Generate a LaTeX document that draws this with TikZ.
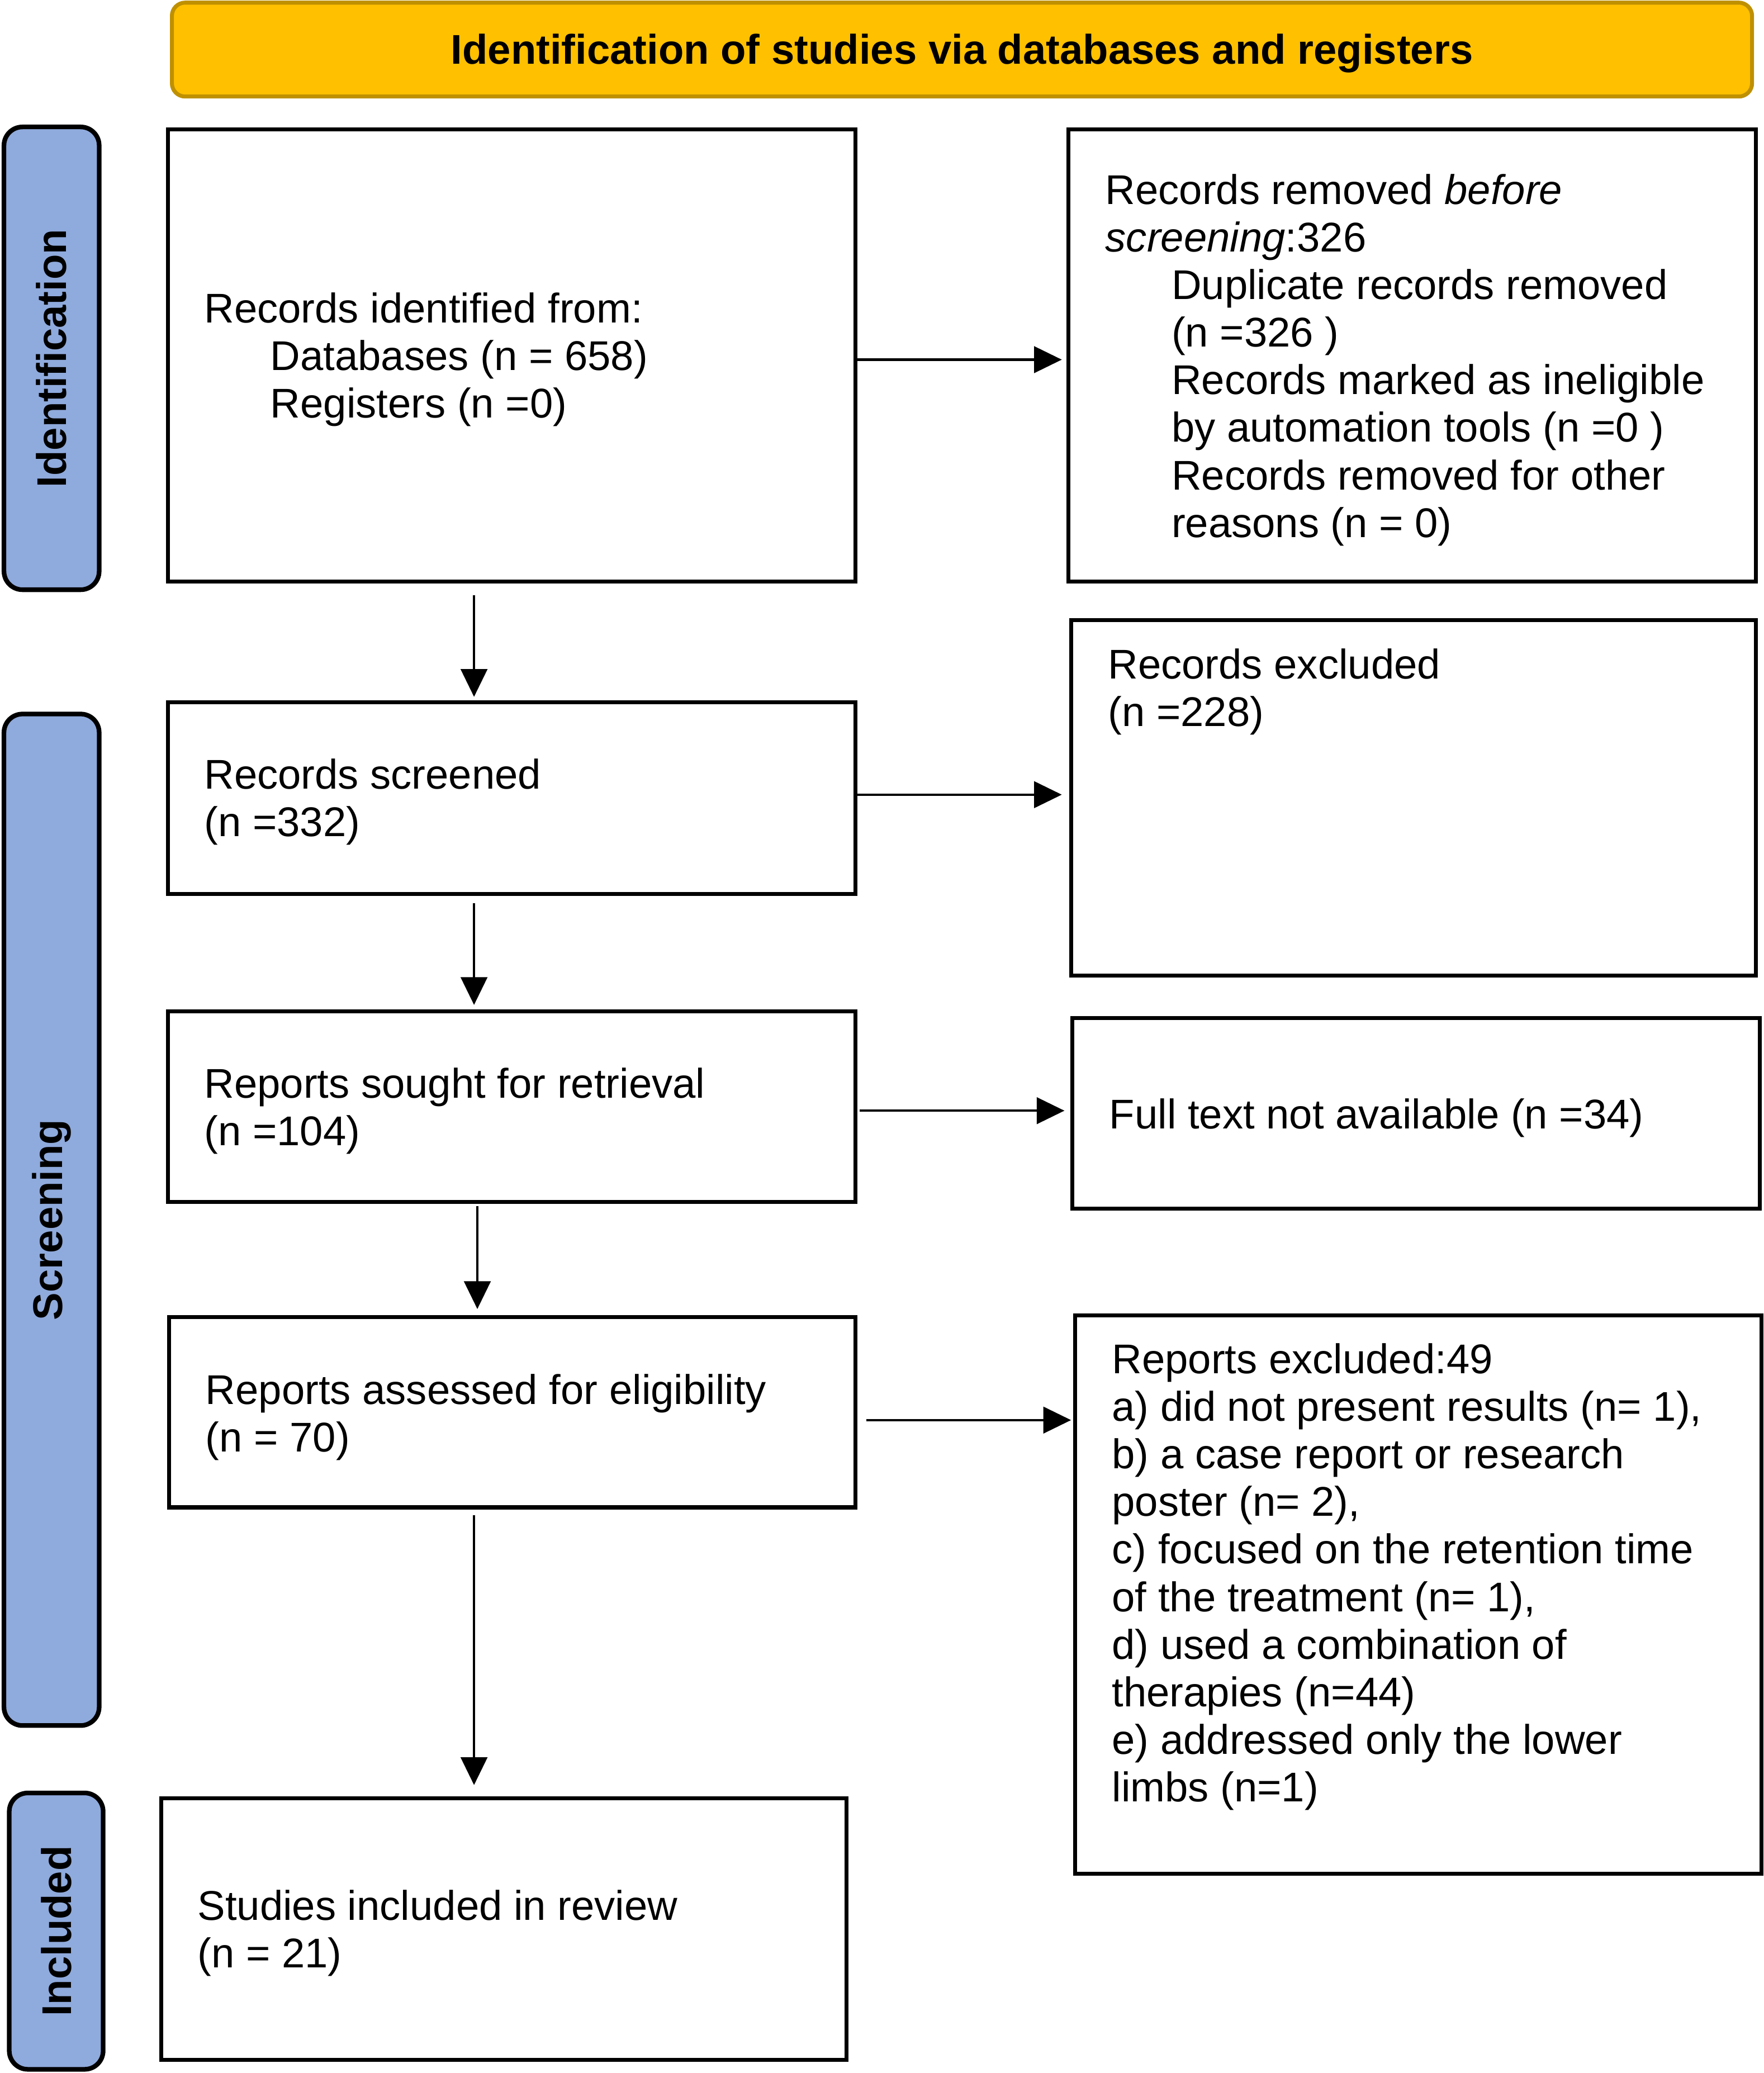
\documentclass[tikz,border=0pt]{standalone}
\usepackage{fontspec}
\setmainfont{Liberation Sans}
\usetikzlibrary{fit,arrows.meta}
\definecolor{gold}{HTML}{FFC000}
\definecolor{goldline}{HTML}{BF9000}
\definecolor{sideblue}{HTML}{8FAADC}
\newcommand\firstln{\rule{0pt}{12pt}}
\newcommand\ind{\hspace*{25pt}}
\begin{document}
\begin{tikzpicture}[x=0.5pt,y=-0.5pt,
  box/.style={draw=black, line width=1.5pt, inner sep=0pt, outer sep=0pt, rectangle},
  sidebar/.style={draw=black, fill=sideblue, line width=1.75pt, rounded corners=7pt, inner sep=0pt, outer sep=0pt},
  titlebar/.style={draw=goldline, fill=gold, line width=1.5pt, rounded corners=5pt, inner sep=0pt, outer sep=0pt},
  txt/.style={inner sep=0pt, outer sep=0pt, anchor=north west, align=left, font=\fontsize{15.7}{18}\selectfont},
  boldlbl/.style={inner sep=0pt, font=\fontsize{15.7}{18}\selectfont\bfseries},
  arr/.style={line width=0.95pt, -{Triangle[length=10.5pt,width=10pt]}}]
\fill[white] (0,0) rectangle (1334,1567.8);
\useasboundingbox (0,0) rectangle (1334,1567.8);

% title bar
\node[titlebar, fit={(130,2) (1325,73)}] (title) {};
\node[boldlbl, yshift=-1.5pt] (titletext) at (title.center) {Identification of studies via databases and registers};

% side bars
\node[sidebar, fit={(3,96) (75,446)}] (s1) {};
\node[sidebar, fit={(3,540) (75,1305)}] (s2) {};
\node[sidebar, fit={(7,1356) (78,1565)}] (s3) {};
\node[boldlbl, rotate=90] (l1) at (s1.center) {Identification};
\node[boldlbl, rotate=90] (l2) at (s2.center) {Screening};
\node[boldlbl, rotate=90] (l3) at (s3.center) {Included};

% boxes
\node[box, fit={(127,98) (647,440)}] (b1) {};
\node[box, fit={(808,98) (1328,440)}] (b2) {};
\node[box, fit={(127,531) (647,676)}] (b3) {};
\node[box, fit={(810,469) (1328,738)}] (b4) {};
\node[box, fit={(127,765) (647,909)}] (b5) {};
\node[box, fit={(811,770) (1331,914)}] (b6) {};
\node[box, fit={(128,996) (647,1140)}] (b7) {};
\node[box, fit={(813,995) (1332,1417)}] (b8) {};
\node[box, fit={(122,1360) (640,1558)}] (b9) {};

% texts
\node[txt] (t1) at (154.5,220) {\firstln Records identified from:\\ \ind Databases (n = 658)\\ \ind Registers (n =0)};
\node[txt] (t2) at (836,130.3) {\firstln Records removed \textit{before}\\ \textit{screening}:326\\ \ind Duplicate records removed\\ \ind (n =326 )\\ \ind Records marked as ineligible\\ \ind by automation tools (n =0 )\\ \ind Records removed for other\\ \ind reasons (n = 0)};
\node[txt] (t3) at (154.5,572.5) {\firstln Records screened\\ (n =332)};
\node[txt] (t4) at (838,489.5) {\firstln Records excluded\\ (n =228)};
\node[txt] (t5) at (154.5,806.5) {\firstln Reports sought for retrieval\\ (n =104)};
\node[txt] (t6) at (839,829.5) {\firstln Full text not available (n =34)};
\node[txt] (t7) at (155.5,1038) {\firstln Reports assessed for eligibility\\ (n = 70)};
\node[txt] (t8) at (841,1014.7) {\firstln Reports excluded:49\\ a) did not present results (n= 1),\\ b) a case report or research\\ poster (n= 2),\\ c) focused on the retention time\\ of the treatment (n= 1),\\ d) used a combination of\\ therapies (n=44)\\ e) addressed only the lower\\ limbs (n=1)};
\node[txt] (t9) at (149.5,1428) {\firstln Studies included in review\\ (n = 21)};

% guide coordinates
\coordinate (r1) at (0,272);
\coordinate (r2) at (0,601);
\coordinate (r3) at (0,840);
\coordinate (r4) at (0,1074);
\coordinate (c1) at (358.5,0);
\coordinate (c2) at (358.5,0);
\coordinate (c3) at (361,0);
\coordinate (c4) at (358.5,0);

% horizontal connectors
\draw[arr, shorten >=2.5pt] (b1.east |- r1) -- (b2.west |- r1);
\draw[arr, shorten >=3.5pt] (b3.east |- r2) -- (b4.west |- r2);
\draw[arr, shorten <=1.5pt, shorten >=3pt] (b5.east |- r3) -- (b6.west |- r3);
\draw[arr, shorten <=4pt, shorten >=1.5pt] (b7.east |- r4) -- (b8.west |- r4);

% vertical connectors
\draw[arr, shorten <=5pt, shorten >=2pt] (b1.south -| c1) -- (b3.north -| c1);
\draw[arr, shorten <=3.5pt, shorten >=2.5pt] (b3.south -| c2) -- (b5.north -| c2);
\draw[arr, shorten <=1.5pt, shorten >=3pt] (b5.south -| c3) -- (b7.north -| c3);
\draw[arr, shorten <=3pt, shorten >=5pt] (b7.south -| c4) -- (b9.north -| c4);
\end{tikzpicture}
\end{document}
